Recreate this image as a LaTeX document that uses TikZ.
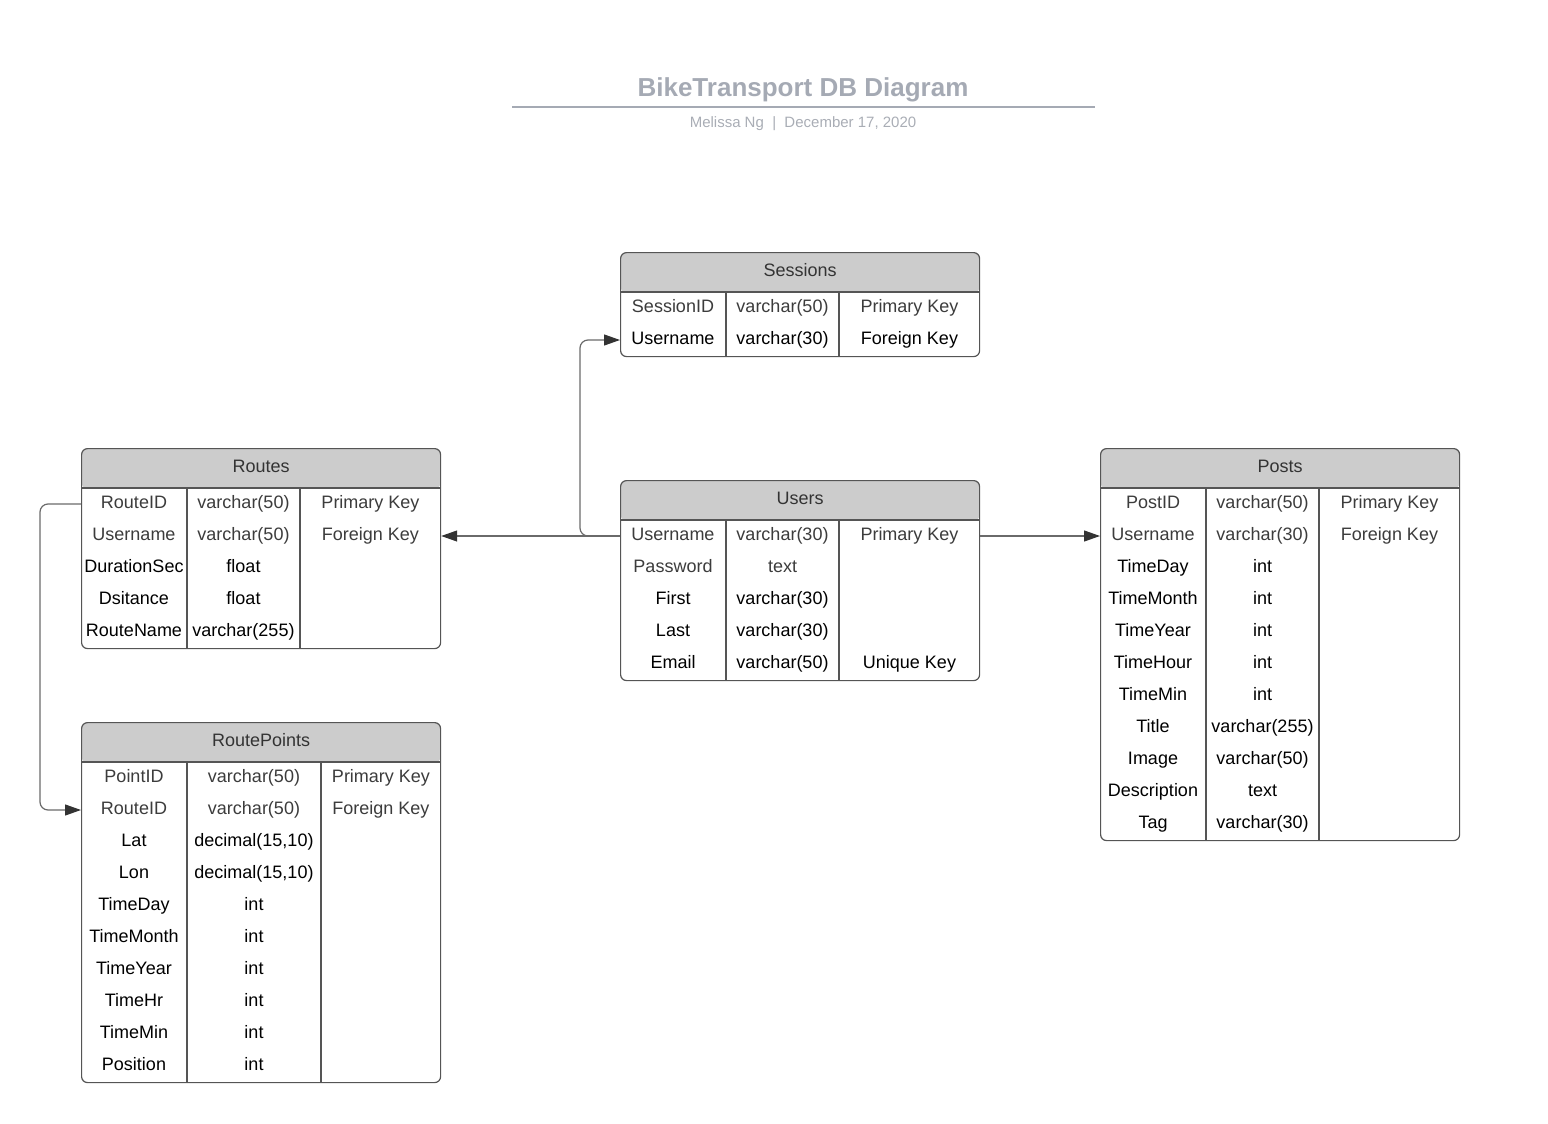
\documentclass[tikz,border=0pt]{standalone}
\usepackage{fontspec}
\setmainfont{Liberation Sans}
\usetikzlibrary{arrows.meta}
\definecolor{headgray}{HTML}{CCCCCC}
\definecolor{linegray}{HTML}{555555}
\definecolor{linkgray}{HTML}{6A6A6A}
\definecolor{tipdark}{HTML}{333333}
\definecolor{headink}{HTML}{333333}
\definecolor{rowgray}{HTML}{3C3C3C}
\definecolor{titleink}{HTML}{A5AAB4}
\definecolor{byink}{HTML}{A9ADB5}
\tikzset{
  tablebox/.style={draw=linegray, line width=1.2pt, rounded corners=6pt, fill=white,
    minimum width=359pt, inner sep=0pt, anchor=north west,
    path picture={\fill[headgray] (path picture bounding box.north west) rectangle
      ([yshift=-40pt]path picture bounding box.north east);}},
  headtext/.style={text=headink, font=\fontsize{18}{20}\selectfont, text height=13pt, text depth=4pt, inner sep=0pt},
  cell/.style={font=\fontsize{18}{20}\selectfont, text height=13pt, text depth=4pt, inner sep=0pt},
  rule/.style={draw=linegray, line width=1.2pt},
  link/.style={draw=linkgray, line width=1.2pt, rounded corners=8pt,
    -{Triangle[length=16pt,width=11pt,color=tipdark]}},
  titletext/.style={text=titleink, font=\fontsize{26}{30}\selectfont\bfseries, inner sep=0pt},
  bytext/.style={text=byink, font=\fontsize{15}{18}\selectfont, inner sep=0pt}
}

\begin{document}
\begin{tikzpicture}[x=1pt,y=1pt]
  \useasboundingbox (0,0) rectangle (1548,-1124);

  % title
  \node[titletext] (title) at (803,-90) {BikeTransport DB Diagram};
  \draw[titleink, line width=2pt] (512,-107) -- (1095,-107);
  \node[bytext] (byline) at (803,-124) {Melissa Ng \ | \ December 17, 2020};

  % Sessions
  \node[tablebox, minimum height=104pt] (sessions) at (620,-252) {};
  \node[headtext] (sessions-title) at ([yshift=-20pt]sessions.north) {Sessions};
  \draw[rule] ([yshift=-40pt]sessions.north west) -- ([yshift=-40pt]sessions.north east);
  \draw[rule] ([shift={(106,-40)}]sessions.north west) -- ([xshift=106pt]sessions.south west);
  \draw[rule] ([shift={(219,-40)}]sessions.north west) -- ([xshift=219pt]sessions.south west);
  \foreach \n/\t/\k/\c [count=\i] in {SessionID/varchar(50)/Primary Key/rowgray,
      Username/varchar(30)/Foreign Key/black}
    \path ([shift={(53,-24-32*\i)}]sessions.north west)
      node[cell, text=\c] (sessions-n\i) {\n}
      ++(109.5,0) node[cell, text=\c] (sessions-t\i) {\t}
      ++(127,0) node[cell, text=\c] (sessions-k\i) {\k};

  % Users
  \node[tablebox, minimum height=200pt] (users) at (620,-480) {};
  \node[headtext] (users-title) at ([yshift=-20pt]users.north) {Users};
  \draw[rule] ([yshift=-40pt]users.north west) -- ([yshift=-40pt]users.north east);
  \draw[rule] ([shift={(106,-40)}]users.north west) -- ([xshift=106pt]users.south west);
  \draw[rule] ([shift={(219,-40)}]users.north west) -- ([xshift=219pt]users.south west);
  \foreach \n/\t/\k/\c [count=\i] in {Username/varchar(30)/Primary Key/rowgray,
      Password/text//rowgray, First/varchar(30)//black, Last/varchar(30)//black,
      Email/varchar(50)/Unique Key/black}
    \path ([shift={(53,-24-32*\i)}]users.north west)
      node[cell, text=\c] (users-n\i) {\n}
      ++(109.5,0) node[cell, text=\c] (users-t\i) {\t}
      ++(127,0) node[cell, text=\c] (users-k\i) {\k};

  % Routes
  \node[tablebox, minimum height=200pt] (routes) at (81,-448) {};
  \node[headtext] (routes-title) at ([yshift=-20pt]routes.north) {Routes};
  \draw[rule] ([yshift=-40pt]routes.north west) -- ([yshift=-40pt]routes.north east);
  \draw[rule] ([shift={(106,-40)}]routes.north west) -- ([xshift=106pt]routes.south west);
  \draw[rule] ([shift={(219,-40)}]routes.north west) -- ([xshift=219pt]routes.south west);
  \foreach \n/\t/\k/\c [count=\i] in {RouteID/varchar(50)/Primary Key/rowgray,
      Username/varchar(50)/Foreign Key/rowgray, DurationSec/float//black,
      Dsitance/float//black, RouteName/varchar(255)//black}
    \path ([shift={(53,-24-32*\i)}]routes.north west)
      node[cell, text=\c] (routes-n\i) {\n}
      ++(109.5,0) node[cell, text=\c] (routes-t\i) {\t}
      ++(127,0) node[cell, text=\c] (routes-k\i) {\k};

  % RoutePoints
  \node[tablebox, minimum height=360pt] (points) at (81,-722) {};
  \node[headtext] (points-title) at ([yshift=-20pt]points.north) {RoutePoints};
  \draw[rule] ([yshift=-40pt]points.north west) -- ([yshift=-40pt]points.north east);
  \draw[rule] ([shift={(106,-40)}]points.north west) -- ([xshift=106pt]points.south west);
  \draw[rule] ([shift={(240,-40)}]points.north west) -- ([xshift=240pt]points.south west);
  \foreach \n/\t/\k/\c [count=\i] in {PointID/varchar(50)/Primary Key/rowgray,
      RouteID/varchar(50)/Foreign Key/rowgray, Lat/{decimal(15,10)}//black,
      Lon/{decimal(15,10)}//black, TimeDay/int//black, TimeMonth/int//black,
      TimeYear/int//black, TimeHr/int//black, TimeMin/int//black, Position/int//black}
    \path ([shift={(53,-24-32*\i)}]points.north west)
      node[cell, text=\c] (points-n\i) {\n}
      ++(120,0) node[cell, text=\c] (points-t\i) {\t}
      ++(127,0) node[cell, text=\c] (points-k\i) {\k};

  % Posts
  \node[tablebox, minimum height=392pt] (posts) at (1100,-448) {};
  \node[headtext] (posts-title) at ([yshift=-20pt]posts.north) {Posts};
  \draw[rule] ([yshift=-40pt]posts.north west) -- ([yshift=-40pt]posts.north east);
  \draw[rule] ([shift={(106,-40)}]posts.north west) -- ([xshift=106pt]posts.south west);
  \draw[rule] ([shift={(219,-40)}]posts.north west) -- ([xshift=219pt]posts.south west);
  \foreach \n/\t/\k/\c [count=\i] in {PostID/varchar(50)/Primary Key/rowgray,
      Username/varchar(30)/Foreign Key/rowgray, TimeDay/int//black, TimeMonth/int//black,
      TimeYear/int//black, TimeHour/int//black, TimeMin/int//black,
      Title/varchar(255)//black, Image/varchar(50)//black, Description/text//black,
      Tag/varchar(30)//black}
    \path ([shift={(53,-24-32*\i)}]posts.north west)
      node[cell, text=\c] (posts-n\i) {\n}
      ++(109.5,0) node[cell, text=\c] (posts-t\i) {\t}
      ++(127,0) node[cell, text=\c] (posts-k\i) {\k};

  % links
  \draw[link] (users.west |- users-n1) -- (routes.east |- users-n1);
  \draw[link] (users.west |- users-n1) -- ++(-40,0) |- (sessions.west |- sessions-n2);
  \draw[link] (users.east |- users-n1) -- (posts.west |- users-n1);
  \draw[link] (routes.west |- routes-n1) -- ++(-41,0) |- (points.west |- points-n2);
\end{tikzpicture}
\end{document}
